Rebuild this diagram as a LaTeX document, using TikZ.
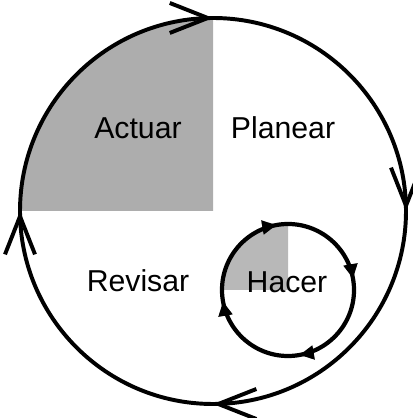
\documentclass[tikz,border=0pt]{standalone}
\usepackage{fontspec}
\setmainfont{Liberation Sans}
\usetikzlibrary{arrows.meta,decorations.markings}
\begin{document}
\begin{tikzpicture}[
        lbl/.style={font=\fontsize{21.5}{23}\selectfont,inner sep=0pt},
        shade/.style={fill=black!32},
        bigring/.style={line width=2.8pt,postaction={decorate},
                    decoration={markings,
                    mark=at position 0.0001 with {\arrow{Straight Barb[length=0.95cm,width=0.75cm,line width=2.8pt]}},
                    mark=at position 0.25 with {\arrow{Straight Barb[length=0.95cm,width=0.75cm,line width=2.8pt]}},
                    mark=at position 0.5 with {\arrow{Straight Barb[length=0.95cm,width=0.75cm,line width=2.8pt]}},
                    mark=at position 0.75 with {\arrow{Straight Barb[length=0.95cm,width=0.75cm,line width=2.8pt]}}}},
        smallring/.style={line width=3pt,postaction={decorate},
                    decoration={markings,
                    mark=at position 0.0001 with {\arrow{Triangle[length=0.36cm,width=0.34cm]}},
                    mark=at position 0.25 with {\arrow{Triangle[length=0.36cm,width=0.34cm]}},
                    mark=at position 0.5 with {\arrow{Triangle[length=0.36cm,width=0.34cm]}},
                    mark=at position 0.75 with {\arrow{Triangle[length=0.36cm,width=0.34cm]}}}},
      ]
        \useasboundingbox (0,0) rectangle (10.3,10.45);
        \coordinate (big) at (5.325,5.175);
        \coordinate (small) at (7.2,3.2);
        % shaded quarters
        \fill[shade] (big) -- ++(90:4.825) arc[start angle=90,end angle=180,radius=4.825] -- cycle;
        \fill[black!28] (small) -- ++(90:1.65) arc[start angle=90,end angle=180,radius=1.65] -- cycle;
        % rings
        \draw[bigring] (big) ++(90:4.825) arc[start angle=90,end angle=-270,radius=4.825];
        \draw[smallring] (small) ++(100:1.65) arc[start angle=100,end angle=-260,radius=1.65];
        % labels
        \node[lbl](actuar) at (3.45,7.25){Actuar};
        \node[lbl](planear) at (7.075,7.25){Planear};
        \node[lbl](revisar) at (3.45,3.425){Revisar};
        \node[lbl](hacer) at (7.175,3.4){Hacer};
      \end{tikzpicture}
\end{document}
